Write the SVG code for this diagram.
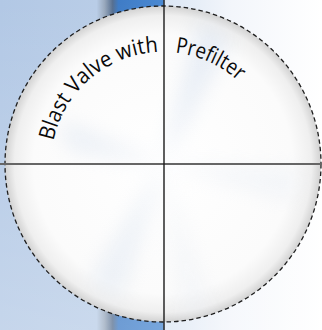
<svg xmlns="http://www.w3.org/2000/svg" width="322" height="330" viewBox="0 0 322 330">
<defs>
<linearGradient id="bg" x1="0" y1="0" x2="322" y2="0" gradientUnits="userSpaceOnUse">
<stop offset="0" stop-color="#b2c8e5"/>
<stop offset="0.30" stop-color="#b9cde7"/>
<stop offset="0.325" stop-color="#98a8bc"/>
<stop offset="0.35" stop-color="#566f90"/>
<stop offset="0.368" stop-color="#3f7cc6"/>
<stop offset="0.506" stop-color="#4a89d2"/>
<stop offset="0.512" stop-color="#dbe6f4"/>
<stop offset="0.72" stop-color="#f3f6fb"/>
<stop offset="1" stop-color="#ffffff"/>
</linearGradient>
<linearGradient id="bgv" x1="0" y1="0" x2="0" y2="330" gradientUnits="userSpaceOnUse">
<stop offset="0" stop-color="#ffffff" stop-opacity="0"/>
<stop offset="1" stop-color="#ffffff" stop-opacity="0.25"/>
</linearGradient>
<radialGradient id="disc" cx="163" cy="164" r="158" gradientUnits="userSpaceOnUse">
<stop offset="0" stop-color="#ffffff"/>
<stop offset="0.82" stop-color="#fbfbfb"/>
<stop offset="0.94" stop-color="#efefef"/>
<stop offset="1" stop-color="#d2d2d2"/>
</radialGradient>
<filter id="blur" x="-20%" y="-20%" width="140%" height="140%"><feGaussianBlur stdDeviation="10"/></filter>
<clipPath id="clip"><circle cx="163" cy="164" r="157"/></clipPath>
<path id="arc" d="M51,164 A112,112 0 0 1 275,164"/>
</defs>
<style>
.lbl{font-family:"Open Sans","Liberation Sans",sans-serif;font-size:22px;fill:#0a0a0a;}
</style>
<rect x="0" y="0" width="322" height="330" fill="url(#bg)"/>
<rect x="0" y="0" width="322" height="330" fill="url(#bgv)"/>
<g id="disc-node">
<circle cx="163" cy="164" r="158" fill="url(#disc)"/>
<g clip-path="url(#clip)" filter="url(#blur)" opacity="0.4">
<path d="M163,164 L230,40 L200,20 Z" fill="#c9d8ec"/>
<path d="M163,164 L60,120 L70,150 Z" fill="#d2deee"/>
<path d="M163,164 L120,300 L90,280 Z" fill="#d6e1ef"/>
<path d="M163,164 L290,200 L300,170 Z" fill="#e6ecf4"/>
<path d="M163,164 L210,310 L185,320 Z" fill="#e9eef5"/>
</g>
<circle cx="163" cy="164" r="158" fill="none" stroke="#1e1e1e" stroke-width="1.3" stroke-dasharray="4.5 3"/>
</g>
<g id="connectors">
<line x1="0" y1="164" x2="322" y2="164" stroke="#666" stroke-width="2"/>
<line x1="164" y1="0" x2="164" y2="330" stroke="#1a1a1a" stroke-width="1.4"/>
</g>
<g id="label-left">
<text class="lbl"><textPath href="#arc" startOffset="23" textLength="148" lengthAdjust="spacingAndGlyphs">Blast Valve with</textPath></text>
</g>
<g id="label-right">
<text class="lbl"><textPath href="#arc" startOffset="188" textLength="70" lengthAdjust="spacingAndGlyphs">Prefilter</textPath></text>
</g>
</svg>
